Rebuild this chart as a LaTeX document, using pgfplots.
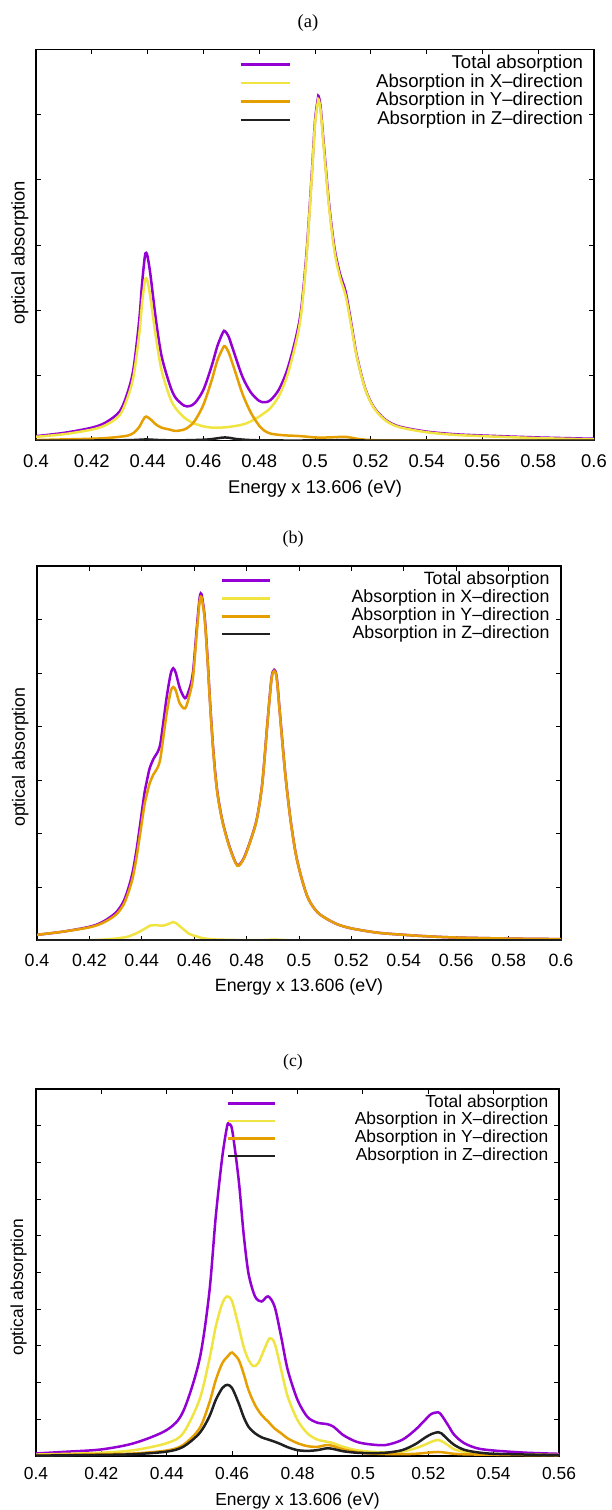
\documentclass[border=0pt]{standalone}
\usepackage{pgfplots}
\pgfplotsset{compat=1.18}
\usepackage{fontspec}
\setmainfont{Liberation Sans}
\newfontfamily\seriffont{Liberation Serif}
\definecolor{cTot}{HTML}{9400D3}
\definecolor{cX}{HTML}{F0E442}
\definecolor{cY}{HTML}{E69F00}
\definecolor{cZ}{HTML}{202020}
\pgfplotsset{
 gp/.style={scale only axis, anchor=south west,
  axis line style={line width=0.75pt, black},
  tick align=inside, major tick length=2.5pt,
  tick style={black, line width=0.5pt},
  ymin=0, yticklabels={},
  /pgf/number format/assume math mode=true,
  xticklabel style={anchor=center},
  legend cell align=right,
  legend style={at={(1,1)}, anchor=north east, draw=none, fill=none,
     inner sep=0pt, outer sep=0pt, row sep=0pt, column sep=0pt},
  every axis plot/.append style={line width=1.25pt, smooth, tension=0.5, no markers},
  xlabel={Energy x 13.606 (eV)},
  ylabel={optical absorption},
 }
}
\begin{document}
\begin{tikzpicture}
\path[use as bounding box] (0pt,0pt) rectangle (305.5pt,-755pt);
\node[font=\seriffont\fontsize{9.3}{11}\selectfont] at (154pt,-11.35pt) {(a)};
\node[font=\seriffont\fontsize{9.0}{11}\selectfont] at (146.5pt,-269.5pt) {(b)};
\node[font=\seriffont\fontsize{8.8}{11}\selectfont] at (146.5pt,-531.25pt) {(c)};

% ---------------- (a)
\begin{axis}[gp, at={(18pt,-220.35pt)}, width=279pt, height=195.7pt,
  xmin=0.4, xmax=0.6, ymax=6, ytick={0,1,2,3,4,5,6},
  xtick={0.4,0.42,0.44,0.46,0.48,0.5,0.52,0.54,0.56,0.58,0.6},
  xticklabels={0.4,0.42,0.44,0.46,0.48,0.5,0.52,0.54,0.56,0.58,0.6},
  tick label style={font=\fontsize{9.2}{11}\selectfont},
  xticklabel style={yshift=-10pt},
  xlabel style={at={(axis description cs:0.5,0)}, anchor=center, yshift=-23.8pt, font=\fontsize{9.2}{11}\selectfont},
  every axis y label/.style={at={(axis description cs:-0.0287,0.48)}, rotate=90, anchor=center, font=\fontsize{9.2}{11}\selectfont},
  legend style={xshift=-5.5pt, yshift=-2.85pt, nodes={inner sep=0pt, outer sep=0pt, text height=6.8pt, text depth=2.5pt, font=\fontsize{9.3}{11}\selectfont}},
  legend image code/.code={\draw[#1, line width=1.25pt, smooth=false] (0pt,0pt) -- (24.5pt,0pt);},
]
\addplot[cTot] coordinates {(0.400,0.07)(0.410,0.12)(0.420,0.20)(0.425,0.28)(0.430,0.45)(0.433,0.76)(0.435,1.12)(0.437,1.85)(0.438,2.40)(0.439,2.82)(0.4395,2.88)(0.440,2.82)(0.441,2.55)(0.443,1.85)(0.445,1.30)(0.448,0.85)(0.450,0.66)(0.453,0.54)(0.455,0.53)(0.457,0.58)(0.460,0.78)(0.463,1.15)(0.465,1.45)(0.467,1.66)(0.4677,1.68)(0.469,1.60)(0.471,1.35)(0.474,0.98)(0.477,0.74)(0.480,0.61)(0.482,0.59)(0.484,0.62)(0.487,0.78)(0.490,1.08)(0.493,1.55)(0.495,2.00)(0.497,2.90)(0.499,4.20)(0.500,4.90)(0.501,5.24)(0.5013,5.28)(0.502,5.12)(0.503,4.62)(0.505,3.65)(0.507,2.95)(0.509,2.55)(0.511,2.28)(0.513,1.80)(0.515,1.30)(0.518,0.80)(0.521,0.52)(0.525,0.33)(0.530,0.22)(0.540,0.14)(0.550,0.10)(0.560,0.08)(0.580,0.05)(0.600,0.03)};
\addlegendentry{\makebox[146pt][r]{Total absorption}}
\addplot[cX] coordinates {(0.400,0.06)(0.410,0.10)(0.420,0.17)(0.425,0.24)(0.430,0.39)(0.433,0.68)(0.435,1.00)(0.437,1.63)(0.438,2.10)(0.439,2.44)(0.4395,2.49)(0.440,2.44)(0.441,2.20)(0.443,1.58)(0.445,1.08)(0.448,0.66)(0.450,0.50)(0.453,0.36)(0.455,0.30)(0.457,0.26)(0.460,0.22)(0.463,0.20)(0.466,0.20)(0.469,0.21)(0.472,0.23)(0.475,0.26)(0.478,0.32)(0.480,0.37)(0.482,0.43)(0.484,0.50)(0.487,0.68)(0.490,0.99)(0.493,1.47)(0.495,1.93)(0.497,2.84)(0.499,4.15)(0.500,4.85)(0.501,5.19)(0.5013,5.23)(0.502,5.07)(0.503,4.57)(0.505,3.60)(0.507,2.90)(0.509,2.50)(0.511,2.22)(0.513,1.76)(0.515,1.28)(0.518,0.79)(0.521,0.51)(0.525,0.32)(0.530,0.21)(0.540,0.13)(0.550,0.09)(0.560,0.07)(0.580,0.04)(0.600,0.02)};
\addlegendentry{\makebox[146pt][r]{Absorption in X–direction}}
\addplot[cY] coordinates {(0.400,0.01)(0.410,0.02)(0.420,0.03)(0.425,0.04)(0.430,0.06)(0.433,0.08)(0.435,0.12)(0.437,0.21)(0.438,0.29)(0.439,0.36)(0.4395,0.37)(0.440,0.36)(0.441,0.33)(0.443,0.25)(0.445,0.20)(0.448,0.17)(0.450,0.15)(0.453,0.17)(0.455,0.22)(0.457,0.31)(0.460,0.55)(0.463,0.93)(0.465,1.23)(0.467,1.42)(0.4677,1.45)(0.469,1.36)(0.471,1.11)(0.474,0.72)(0.477,0.43)(0.480,0.23)(0.482,0.15)(0.484,0.11)(0.487,0.09)(0.490,0.08)(0.495,0.07)(0.500,0.05)(0.505,0.05)(0.511,0.06)(0.515,0.03)(0.520,0.01)(0.530,0.005)(0.600,0)};
\addlegendentry{\makebox[146pt][r]{Absorption in Y–direction}}
\addplot[cZ] coordinates {(0.400,0)(0.420,0.003)(0.430,0.006)(0.436,0.012)(0.4395,0.02)(0.443,0.012)(0.448,0.006)(0.455,0.008)(0.462,0.02)(0.4677,0.05)(0.472,0.025)(0.478,0.008)(0.490,0.003)(0.505,0.005)(0.511,0.01)(0.518,0.003)(0.530,0)(0.600,0)};
\addlegendentry{\makebox[146pt][r]{Absorption in Z–direction}}
\end{axis}

% ---------------- (b)
\begin{axis}[gp, at={(18.5pt,-470.35pt)}, width=262pt, height=187.35pt,
  xmin=0.4, xmax=0.6, ymax=7, ytick={0,1,2,3,4,5,6,7},
  xtick={0.4,0.42,0.44,0.46,0.48,0.5,0.52,0.54,0.56,0.58,0.6},
  xticklabels={0.4,0.42,0.44,0.46,0.48,0.5,0.52,0.54,0.56,0.58,0.6},
  tick label style={font=\fontsize{8.9}{11}\selectfont},
  xticklabel style={yshift=-9.65pt},
  xlabel style={at={(axis description cs:0.5,0)}, anchor=center, yshift=-23pt, font=\fontsize{8.9}{11}\selectfont},
  every axis y label/.style={at={(axis description cs:-0.032,0.49)}, rotate=90, anchor=center, font=\fontsize{8.9}{11}\selectfont},
  legend style={xshift=-5.75pt, yshift=-2.9pt, nodes={inner sep=0pt, outer sep=0pt, text height=6.5pt, text depth=2.4pt, font=\fontsize{8.9}{11}\selectfont}},
  legend image code/.code={\draw[#1, line width=1.25pt, smooth=false] (0pt,0pt) -- (24pt,0pt);},
]
\addplot[cTot] coordinates {(0.400,0.11)(0.410,0.17)(0.420,0.26)(0.425,0.35)(0.430,0.52)(0.433,0.73)(0.435,1.00)(0.4365,1.28)(0.438,1.70)(0.4395,2.22)(0.441,2.75)(0.442,3.00)(0.443,3.22)(0.4445,3.40)(0.446,3.52)(0.447,3.66)(0.448,4.00)(0.4495,4.55)(0.451,4.98)(0.452,5.09)(0.453,5.00)(0.4545,4.72)(0.4565,4.53)(0.458,4.68)(0.4595,5.00)(0.461,5.85)(0.462,6.38)(0.4625,6.49)(0.463,6.42)(0.464,6.05)(0.465,5.35)(0.466,4.50)(0.467,3.75)(0.468,3.15)(0.469,2.72)(0.4705,2.30)(0.472,2.00)(0.474,1.68)(0.4765,1.41)(0.479,1.55)(0.482,1.95)(0.484,2.30)(0.486,2.95)(0.488,4.10)(0.4895,4.90)(0.4905,5.06)(0.4915,4.92)(0.4928,4.20)(0.4948,3.10)(0.4968,2.25)(0.4988,1.62)(0.5008,1.20)(0.503,0.85)(0.505,0.66)(0.508,0.49)(0.514,0.32)(0.520,0.23)(0.530,0.15)(0.540,0.11)(0.550,0.08)(0.560,0.06)(0.580,0.04)(0.600,0.03)};
\addlegendentry{\makebox[139.25pt][r]{Total absorption}}
\addplot[cX] coordinates {(0.400,0)(0.410,0.003)(0.420,0.01)(0.425,0.02)(0.430,0.04)(0.433,0.06)(0.435,0.08)(0.4365,0.11)(0.438,0.14)(0.4395,0.18)(0.441,0.22)(0.442,0.25)(0.443,0.28)(0.4445,0.29)(0.446,0.29)(0.447,0.28)(0.448,0.28)(0.4495,0.30)(0.451,0.33)(0.452,0.35)(0.453,0.33)(0.4545,0.27)(0.4565,0.19)(0.458,0.13)(0.4595,0.10)(0.461,0.08)(0.463,0.05)(0.466,0.03)(0.470,0.02)(0.480,0.01)(0.486,0.012)(0.4905,0.02)(0.495,0.012)(0.500,0.005)(0.520,0)(0.600,0)};
\addlegendentry{\makebox[139.25pt][r]{Absorption in X–direction}}
\addplot[cY] coordinates {(0.400,0.11)(0.410,0.17)(0.420,0.25)(0.425,0.33)(0.430,0.48)(0.433,0.67)(0.435,0.92)(0.4365,1.17)(0.438,1.56)(0.4395,2.04)(0.441,2.53)(0.442,2.75)(0.443,2.94)(0.4445,3.11)(0.446,3.23)(0.447,3.38)(0.448,3.72)(0.4495,4.25)(0.451,4.65)(0.452,4.74)(0.453,4.67)(0.4545,4.43)(0.4565,4.34)(0.458,4.55)(0.4595,4.90)(0.461,5.77)(0.462,6.31)(0.4625,6.43)(0.463,6.37)(0.464,6.01)(0.465,5.32)(0.466,4.47)(0.467,3.72)(0.468,3.12)(0.469,2.70)(0.4705,2.29)(0.472,1.99)(0.474,1.67)(0.4765,1.40)(0.479,1.54)(0.482,1.94)(0.484,2.29)(0.486,2.94)(0.488,4.09)(0.4895,4.88)(0.4905,5.04)(0.4915,4.90)(0.4928,4.18)(0.4948,3.09)(0.4968,2.24)(0.4988,1.61)(0.5008,1.20)(0.503,0.85)(0.505,0.66)(0.508,0.49)(0.514,0.32)(0.520,0.23)(0.530,0.15)(0.540,0.11)(0.550,0.08)(0.560,0.06)(0.580,0.04)(0.600,0.03)};
\addlegendentry{\makebox[139.25pt][r]{Absorption in Y–direction}}
\addplot[cZ] coordinates {(0.400,0)(0.450,0)(0.500,0)(0.600,0)};
\addlegendentry{\makebox[139.25pt][r]{Absorption in Z–direction}}
\end{axis}

% ---------------- (c)
\begin{axis}[gp, at={(18pt,-728pt)}, width=261.5pt, height=183.5pt,
  xmin=0.4, xmax=0.56, ymax=10, ytick={0,1,2,3,4,5,6,7,8,9,10},
  xtick={0.4,0.42,0.44,0.46,0.48,0.5,0.52,0.54,0.56},
  xticklabels={0.4,0.42,0.44,0.46,0.48,0.5,0.52,0.54,0.56},
  tick label style={font=\fontsize{8.7}{11}\selectfont},
  xticklabel style={yshift=-8.9pt},
  xlabel style={at={(axis description cs:0.5,0)}, anchor=center, yshift=-22.25pt, font=\fontsize{8.7}{11}\selectfont},
  every axis y label/.style={at={(axis description cs:-0.033,0.46)}, rotate=90, anchor=center, font=\fontsize{8.7}{11}\selectfont},
  legend style={xshift=-5.35pt, yshift=-2.75pt, nodes={inner sep=0pt, outer sep=0pt, text height=6.4pt, text depth=2.4pt, font=\fontsize{8.7}{11}\selectfont}},
  legend image code/.code={\draw[#1, line width=1.25pt, smooth=false] (0pt,0pt) -- (23.5pt,0pt);},
]
\addplot[cTot] coordinates {(0.400,0.07)(0.410,0.12)(0.420,0.18)(0.430,0.35)(0.440,0.71)(0.445,1.21)(0.450,2.62)(0.453,4.44)(0.455,6.53)(0.457,8.16)(0.4585,9.00)(0.459,9.03)(0.460,8.89)(0.462,7.53)(0.4635,6.07)(0.465,4.98)(0.467,4.35)(0.469,4.21)(0.471,4.35)(0.473,4.07)(0.475,3.25)(0.477,2.35)(0.480,1.53)(0.483,1.07)(0.486,0.91)(0.489,0.87)(0.491,0.80)(0.494,0.57)(0.498,0.39)(0.502,0.32)(0.507,0.30)(0.512,0.44)(0.516,0.71)(0.519,0.98)(0.521,1.15)(0.523,1.19)(0.524,1.12)(0.526,0.85)(0.528,0.57)(0.531,0.35)(0.535,0.21)(0.540,0.15)(0.550,0.09)(0.560,0.06)};
\addlegendentry{\makebox[136.15pt][r]{Total absorption}}
\addplot[cX] coordinates {(0.400,0.04)(0.410,0.06)(0.420,0.09)(0.430,0.16)(0.440,0.35)(0.445,0.62)(0.450,1.53)(0.453,2.62)(0.455,3.53)(0.457,4.16)(0.4585,4.35)(0.460,4.21)(0.462,3.53)(0.4635,2.98)(0.465,2.62)(0.4665,2.45)(0.468,2.53)(0.470,2.94)(0.4715,3.21)(0.473,3.07)(0.475,2.35)(0.477,1.62)(0.480,0.98)(0.483,0.62)(0.486,0.45)(0.489,0.39)(0.491,0.35)(0.494,0.25)(0.498,0.16)(0.502,0.12)(0.507,0.10)(0.512,0.12)(0.516,0.21)(0.519,0.31)(0.521,0.39)(0.523,0.44)(0.524,0.41)(0.526,0.30)(0.528,0.18)(0.531,0.12)(0.535,0.07)(0.540,0.05)(0.560,0.03)};
\addlegendentry{\makebox[136.15pt][r]{Absorption in X–direction}}
\addplot[cY] coordinates {(0.400,0.02)(0.420,0.05)(0.430,0.07)(0.440,0.15)(0.445,0.30)(0.450,0.75)(0.453,1.44)(0.455,2.07)(0.457,2.53)(0.459,2.75)(0.460,2.82)(0.462,2.62)(0.4635,2.25)(0.465,1.80)(0.467,1.39)(0.469,1.12)(0.471,0.94)(0.473,0.75)(0.475,0.62)(0.477,0.48)(0.480,0.35)(0.483,0.27)(0.486,0.25)(0.489,0.30)(0.491,0.27)(0.494,0.18)(0.498,0.11)(0.502,0.07)(0.510,0.05)(0.516,0.06)(0.523,0.11)(0.528,0.06)(0.535,0.04)(0.560,0.02)};
\addlegendentry{\makebox[136.15pt][r]{Absorption in Y–direction}}
\addplot[cZ] coordinates {(0.400,0.01)(0.420,0.03)(0.430,0.05)(0.440,0.12)(0.445,0.25)(0.450,0.62)(0.453,1.07)(0.455,1.53)(0.457,1.85)(0.4585,1.94)(0.460,1.85)(0.462,1.44)(0.4635,1.07)(0.465,0.80)(0.467,0.62)(0.469,0.51)(0.471,0.45)(0.473,0.39)(0.475,0.32)(0.477,0.24)(0.480,0.16)(0.483,0.14)(0.486,0.16)(0.489,0.21)(0.491,0.19)(0.494,0.13)(0.498,0.09)(0.502,0.08)(0.507,0.09)(0.512,0.16)(0.516,0.32)(0.519,0.50)(0.521,0.60)(0.523,0.65)(0.524,0.62)(0.526,0.45)(0.528,0.30)(0.531,0.17)(0.535,0.10)(0.540,0.06)(0.550,0.04)(0.560,0.02)};
\addlegendentry{\makebox[136.15pt][r]{Absorption in Z–direction}}
\end{axis}
\end{tikzpicture}
\end{document}
